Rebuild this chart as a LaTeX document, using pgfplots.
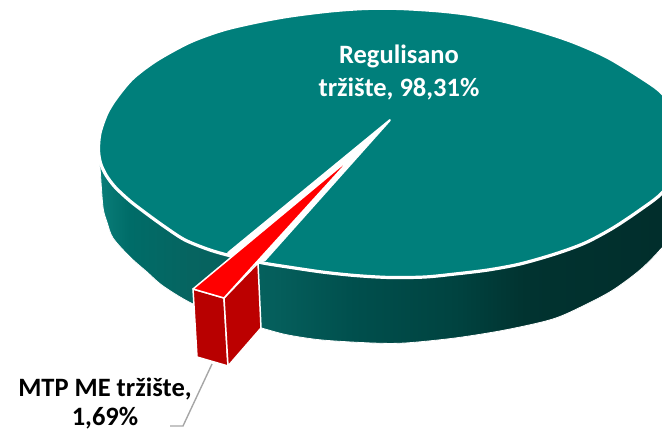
\documentclass[border=0pt]{standalone}
\usepackage{fontspec}
\setmainfont{Carlito}
\usepackage{pgfplots}
\pgfplotsset{compat=1.18}

\definecolor{topteal}{HTML}{007F7B}
\definecolor{s1}{HTML}{0A7E79}
\definecolor{s2}{HTML}{006C68}
\definecolor{s3}{HTML}{066460}
\definecolor{s4}{HTML}{055F5C}
\definecolor{s5}{HTML}{004F4D}
\definecolor{s6}{HTML}{004340}
\definecolor{s7}{HTML}{013330}
\definecolor{s8}{HTML}{012D2B}
\definecolor{redtop}{HTML}{FF0000}
\definecolor{redleft}{HTML}{B80000}
\definecolor{redright}{HTML}{BC0000}

% side of the pie, dark towards the right
\pgfdeclarehorizontalshading{piebody}{100bp}{color(0bp)=(s1); color(25bp)=(s1); color(27.6bp)=(s2); color(32.8bp)=(s3); color(39.7bp)=(s4); color(46.6bp)=(s5); color(55.2bp)=(s6); color(61bp)=(s7); color(75bp)=(s8); color(100bp)=(s8)}

\begin{document}
\begin{tikzpicture}
% hide axis drops the axis box from the page size
\useasboundingbox (0,0) rectangle (662pt,431pt);
\begin{axis}[
    scale only axis,
    width=662pt, height=431pt,
    xmin=0, xmax=662,
    ymin=0, ymax=431,
    y dir=reverse,
    hide axis,
]
% side wall
\addplot[draw=white, line width=0.8pt, shade, shading=piebody, smooth, tension=0.5] coordinates {
    (98.5,150) (100,167) (103,207) (107,222) (113,238) (130,257) (147,272) (163,286)
    (191,303) (228,318) (265,329) (288,335) (322,340) (372,343) (405,343) (455,338)
    (505,330) (553,319) (585,305) (613,290) (640,270) (660,250) (680,225) (690,150)
} -- cycle;

% top face, 98,31%
\addplot[fill=topteal, draw=white, line width=3.2pt, smooth, tension=0.5] coordinates {
    (687,143) (680,118) (662,93) (640,77) (607,57) (573,42) (540,31) (507,22)
    (473,15) (440,11) (400,8.5) (365,8.5) (330,11) (290,16) (257,22) (223,30)
    (190,42) (157,60) (133,78) (117,97) (107,113) (100,133) (98.5,150) (100.5,163)
    (106,175) (115,187) (130,201) (147,214) (165,227) (185,240) (210,250) (235,257)
    (263,263) (288,267) (322,272) (355,275.5) (390,277.5) (425,277) (455,274) (488,270)
    (520,264) (555,254) (585,243) (613,228) (640,210) (662,193) (680,168) (687,143)
};

% gap left by the pulled out slice
\addplot[fill=white, draw=white, line width=2pt, line join=round] coordinates {
    (390,120) (228,253) (240,268) (258,263) (265,260) (390,120)
} -- cycle;

% pulled out slice, 1,69%
\addplot[fill=redleft, draw=white, line width=1.5pt, line join=round] coordinates {
    (193,289) (224,298) (228,366) (197,357)
} -- cycle;
\addplot[fill=redright, draw=white, line width=1.5pt, line join=round] coordinates {
    (224,298) (258,263) (261,328) (228,366)
} -- cycle;
\addplot[fill=redtop, draw=white, line width=1.5pt, line join=round] coordinates {
    (353,156) (193,289) (224,298)
} -- cycle;

% leader line
\addplot[color=black!35, line width=1.4pt] coordinates {
    (212,364) (183,426) (170,426)
};

\node[text=white, align=center, font=\fontsize{26.5}{33}\selectfont\bfseries] at (axis cs:399,72) {Regulisano\\tržište, 98,31\%};
\node[text=black, align=center, font=\fontsize{26.5}{29}\selectfont\bfseries] at (axis cs:105,403) {MTP ME tržište,\\1,69\%};
\end{axis}
\end{tikzpicture}
\end{document}
